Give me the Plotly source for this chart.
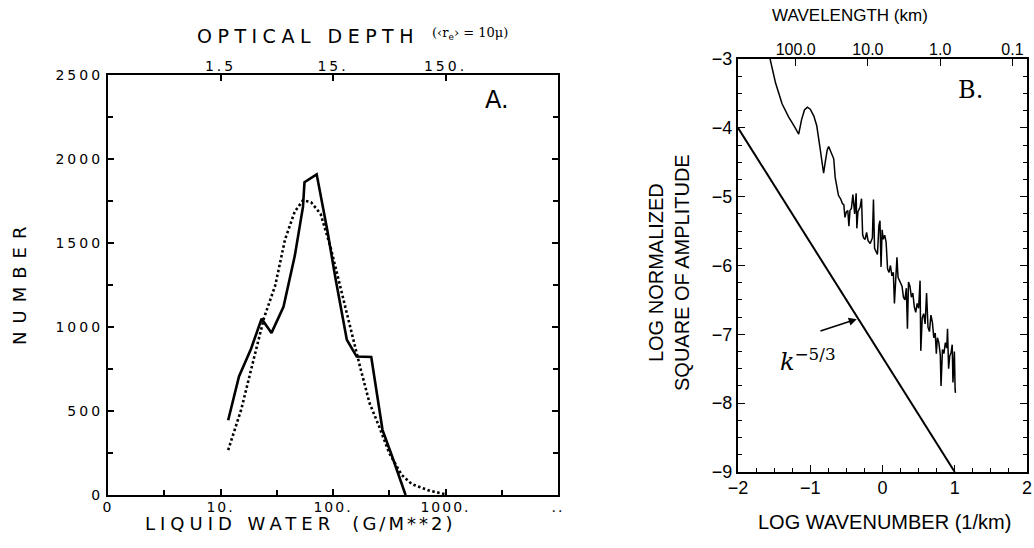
import math
import plotly.graph_objects as go

W, H = 1034, 548

# ---------------- Panel A data ----------------
lwp_obs = [11.7, 14.6, 18.7, 23.2, 28.4, 36.3, 45.7, 54.1, 55.8, 71.6, 89.1, 104.7,
           132.7, 162.2, 218.8, 275.4, 335.7, 410.2, 441.6]
num_obs = [445, 706, 871, 1049, 965, 1120, 1422, 1715, 1862, 1909, 1574, 1298,
           924, 824, 821, 388, 229, 70, 0]

lwp_fit = [11.7, 15.3, 19.3, 24.4, 30.7, 37.5, 45.7, 54.1, 63.8, 77.6, 95.1, 116.1,
           141.3, 173.8, 211.3, 257.0, 316.2, 407.4, 501.2, 724.4, 1000.0]
num_fit = [267, 510, 783, 1055, 1249, 1522, 1687, 1754, 1743, 1673, 1475, 1238,
           1001, 764, 547, 408, 249, 120, 65, 25, 5]

lwp_ticks = [1, 10, 100, 1000, 10000]
lwp_ticktext = ["0", "10.", "100.", "1000.", ".."]
num_ticks = [0, 500, 1000, 1500, 2000, 2500]
tau_ticks = [1.5, 15.0, 150.0]
tau_ticktext = ["1.5", "15.", "150."]
tau_per_lwp = 0.15  # optical depth per g/m^2 for re = 10 micron

# ---------------- Panel B data ----------------
spec_logk = [-1.556, -1.48, -1.39, -1.30, -1.22, -1.16, -1.12, -1.08, -1.04, -1.00,
             -0.95, -0.91, -0.87, -0.835, -0.815, -0.79, -0.765, -0.745, -0.725, -0.70,
             -0.675, -0.655, -0.635, -0.61, -0.58, -0.555, -0.535, -0.52, -0.50, -0.48,
             -0.465, -0.45, -0.43, -0.41, -0.385, -0.365, -0.355, -0.34, -0.31, -0.29,
             -0.275, -0.26, -0.24, -0.22, -0.20, -0.17, -0.14, -0.125, -0.11, -0.09,
             -0.07, -0.05, -0.035, -0.02, -0.005, 0.01, 0.03, 0.05, 0.07, 0.09,
             0.11, 0.13, 0.15, 0.165, 0.18, 0.20, 0.215, 0.23, 0.25, 0.27,
             0.29, 0.31, 0.33, 0.345, 0.36, 0.38, 0.40, 0.42, 0.44, 0.46,
             0.48, 0.50, 0.52, 0.53, 0.55, 0.57, 0.59, 0.61, 0.63, 0.65,
             0.67, 0.69, 0.71, 0.73, 0.745, 0.76, 0.78, 0.80, 0.81, 0.83,
             0.85, 0.87, 0.89, 0.90, 0.915, 0.93, 0.95, 0.965, 0.975, 0.985,
             0.995, 1.005, 1.01]
spec_amp = [-3.00, -3.35, -3.65, -3.84, -3.98, -4.09, -3.88, -3.74, -3.70, -3.73,
            -3.83, -3.97, -4.25, -4.55, -4.66, -4.48, -4.32, -4.27, -4.32, -4.36,
            -4.45, -4.72, -4.85, -4.98, -5.03, -5.10, -5.12, -5.30, -5.22, -5.20,
            -5.43, -5.20, -5.17, -4.97, -5.25, -4.95, -5.46, -5.22, -5.15, -5.03,
            -5.55, -5.60, -5.62, -5.52, -5.64, -5.68, -5.60, -5.04, -5.75, -5.80,
            -5.84, -5.42, -5.35, -6.02, -5.48, -5.62, -5.56, -5.66, -6.05, -6.10,
            -6.00, -6.15, -6.10, -6.55, -6.20, -5.88, -6.17, -6.20, -6.25, -6.30,
            -6.46, -6.50, -6.33, -6.92, -6.24, -6.30, -6.46, -6.40, -6.60, -6.68,
            -6.55, -6.62, -6.22, -7.24, -6.76, -6.70, -6.85, -6.40, -6.90, -6.96,
            -6.72, -6.82, -7.05, -6.98, -7.28, -7.05, -7.12, -7.30, -7.75, -7.22,
            -7.28, -7.12, -7.20, -6.92, -7.50, -7.32, -7.26, -7.15, -7.70, -7.40,
            -7.25, -7.80, -7.85]

ref_logk = [-2.0, 1.0]
ref_amp = [-4.0, -9.0]

wn_ticks = [-2, -1, 0, 1, 2]
amp_ticks = [-9, -8, -7, -6, -5, -4, -3]
wavelength_km = [100.0, 10.0, 1.0, 0.1]
wavelength_text = ["100.0", "10.0", "1.0", "0.1"]


def fx(x):
    return x / W


def fy(y):
    return 1 - y / H


def spaced(s, sp):
    return '<span style="letter-spacing:%spx">%s</span>' % (sp, s)


PLOT_FONT = "DejaVu Sans"
SANS = "Liberation Sans"

fig = go.Figure()

# Panel A traces
fig.add_trace(go.Scatter(x=lwp_obs, y=num_obs, mode="lines", xaxis="x", yaxis="y",
                         line=dict(color="black", width=2.6), showlegend=False, hoverinfo="skip"))
fig.add_trace(go.Scatter(x=lwp_fit, y=num_fit, mode="lines", xaxis="x", yaxis="y",
                         line=dict(color="black", width=2.6, dash="2.5px,2.5px"),
                         showlegend=False, hoverinfo="skip"))
# carrier for the top optical-depth axis
fig.add_trace(go.Scatter(x=[lwp_ticks[0], lwp_ticks[-1]], y=[None, None], mode="lines",
                         xaxis="x2", yaxis="y", showlegend=False, hoverinfo="skip"))

# Panel B traces
fig.add_trace(go.Scatter(x=ref_logk, y=ref_amp, mode="lines", xaxis="x3", yaxis="y3",
                         line=dict(color="black", width=2.0), showlegend=False, hoverinfo="skip"))
fig.add_trace(go.Scatter(x=spec_logk, y=spec_amp, mode="lines", xaxis="x3", yaxis="y3",
                         line=dict(color="black", width=1.5), showlegend=False, hoverinfo="skip"))
fig.add_trace(go.Scatter(x=[wn_ticks[0], wn_ticks[-1]], y=[None, None], mode="lines",
                         xaxis="x4", yaxis="y3", showlegend=False, hoverinfo="skip"))

dA = [fx(108), fx(558)]
dAy = [fy(495), fy(75)]
dB = [fx(738), fx(1027)]
dBy = [fy(472), fy(59)]

tickA = dict(family=PLOT_FONT, size=14, color="black")
tickB = dict(family=SANS, size=18, color="black")

common = dict(automargin=False, showgrid=False, zeroline=False)

fig.update_layout(
    template="none",
    width=W, height=H,
    margin=dict(l=0, r=0, t=0, b=0, autoexpand=False),
    paper_bgcolor="white", plot_bgcolor="white",
    xaxis=dict(domain=dA, anchor="y", type="log", range=[0, 4],
               tickvals=lwp_ticks, ticktext=[spaced(t, 2) for t in lwp_ticktext],
               tickfont=tickA, ticks="inside", ticklen=6, tickwidth=1.5, tickcolor="black",
               minor=dict(tickvals=[3.162, 31.62, 316.2, 3162], ticks="inside", ticklen=5,
                          tickwidth=1.5, tickcolor="black"),
               showline=True, linecolor="black", linewidth=2.2, mirror=True,
               ticklabelstandoff=-2, **common),
    xaxis2=dict(overlaying="x", anchor="y", side="top", type="log", range=[0, 4],
                tickvals=[t / tau_per_lwp for t in tau_ticks],
                ticktext=[spaced(t, 3) for t in tau_ticktext],
                tickfont=tickA, ticks="inside", ticklen=6, tickwidth=1.5, tickcolor="black",
                showline=False, ticklabelstandoff=0, **common),
    yaxis=dict(domain=dAy, anchor="x", range=[0, 2500],
               tickvals=num_ticks, ticktext=[spaced(str(t), 3) for t in num_ticks],
               tickfont=tickA, ticks="inside", ticklen=6, tickwidth=1.5, tickcolor="black",
               minor=dict(dtick=250, ticks="inside", ticklen=5, tickwidth=1.5, tickcolor="black"),
               showline=True, linecolor="black", linewidth=2.2, mirror="ticks", **common),
    xaxis3=dict(domain=dB, anchor="y3", range=[-2, 2],
                tickvals=wn_ticks, ticktext=["−2", "−1", "0", "1", "2"],
                tickfont=tickB, ticks="inside", ticklen=7, tickwidth=1.3, tickcolor="black",
                minor=dict(dtick=0.25, ticks="inside", ticklen=4, tickwidth=1.2, tickcolor="black"),
                showline=True, linecolor="black", linewidth=2.0, mirror=True,
                ticklabelstandoff=-2, **common),
    xaxis4=dict(overlaying="x3", anchor="y3", side="top", range=[-2, 2],
                tickvals=[math.log10(2 * math.pi / w) for w in wavelength_km],
                ticktext=wavelength_text,
                tickfont=dict(family=SANS, size=16, color="black"),
                ticks="inside", ticklen=7, tickwidth=1.3, tickcolor="black",
                showline=False, **common),
    yaxis3=dict(domain=dBy, anchor="x3", range=[-9, -3],
                tickvals=amp_ticks, ticktext=["−9", "−8", "−7", "−6", "−5", "−4", "−3"],
                tickfont=tickB, ticks="inside", ticklen=7, tickwidth=1.3, tickcolor="black",
                minor=dict(dtick=0.25, ticks="inside", ticklen=4, tickwidth=1.2, tickcolor="black"),
                showline=True, linecolor="black", linewidth=2.0, mirror="ticks", **common),
)

ann = []
# Panel A texts
ann.append(dict(x=fx(308), y=fy(36), text=spaced("OPTICAL DEPTH", 5.5),
                font=dict(family=PLOT_FONT, size=19, color="black")))
ann.append(dict(x=fx(470), y=fy(33), text="(‹r<sub>e</sub>› = 10μ)",
                font=dict(family="DejaVu Serif", size=13, color="black")))
ann.append(dict(x=fx(300), y=fy(523), text=spaced("LIQUID WATER", 5) + "   " + spaced("(G/M**2)", 3),
                font=dict(family=PLOT_FONT, size=18, color="black")))
ann.append(dict(x=fx(19), y=fy(282), text=spaced("NUMBER", 8), textangle=-90,
                font=dict(family=PLOT_FONT, size=18, color="black")))
ann.append(dict(x=fx(497), y=fy(100), text="A.",
                font=dict(family=PLOT_FONT, size=24, color="black")))
# Panel B texts
ann.append(dict(x=fx(850), y=fy(16), text="WAVELENGTH (km)",
                font=dict(family=SANS, size=17, color="black")))
ann.append(dict(x=fx(884), y=fy(522), text="LOG WAVENUMBER (1/km)",
                font=dict(family=SANS, size=20, color="black")))
ann.append(dict(x=fx(669), y=fy(273), text="LOG NORMALIZED<br>SQUARE OF AMPLITUDE",
                textangle=-90, font=dict(family=SANS, size=20, color="black")))
ann.append(dict(x=fx(970), y=fy(90), text="B.",
                font=dict(family="DejaVu Serif", size=24, color="black")))
ann.append(dict(x=fx(808), y=fy(360), text="<i>k</i><sup>−5/3</sup>",
                font=dict(family="DejaVu Serif", size=24, color="black")))
# arrow pointing to the k^-5/3 line
ann.append(dict(x=-0.33, y=-6.77, xref="x3", yref="y3", ax=-0.88, ay=-6.96,
                axref="x3", ayref="y3", text="", showarrow=True, arrowhead=2,
                arrowsize=1, arrowwidth=1.6, arrowcolor="black", standoff=2))

for a in ann:
    a.setdefault("xref", "paper")
    a.setdefault("yref", "paper")
    a.setdefault("showarrow", False)
    a.setdefault("xanchor", "center")
    a.setdefault("yanchor", "middle")

fig.update_layout(annotations=ann)

fig.write_html("out.html", config={"displayModeBar": False},
               post_script="document.body.style.margin='0px';document.body.style.overflow='hidden';")
